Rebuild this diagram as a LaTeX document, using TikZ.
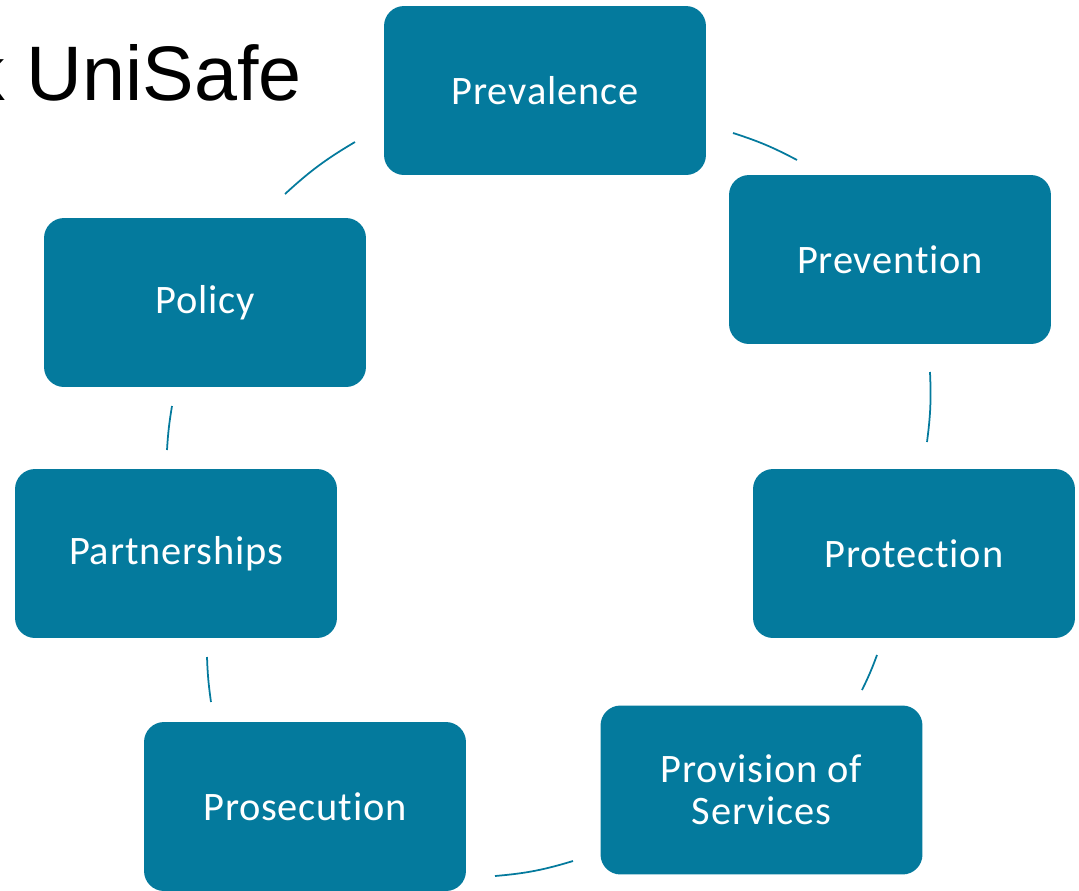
\documentclass[tikz,border=0pt]{standalone}
\usepackage{fontspec}
\setmainfont{Carlito}[Ligatures=NoCommon, LetterSpace=2]
\newfontfamily\titrefont{Liberation Sans}
\definecolor{bleucanard}{RGB}{4,122,157}

\begin{document}
\begin{tikzpicture}[x=0.02cm,y=-0.02cm]
\tikzset{pnoeud/.style={fill=bleucanard, rounded corners=0.4cm, minimum width=6.44cm, minimum height=3.38cm, inner sep=0pt, text=white, align=center, font=\fontsize{23}{24}\selectfont}}
\tikzset{lien/.style={draw=bleucanard, line width=0.035cm}}
\clip (0,0) rectangle (1079,890);
\node[anchor=base east, inner sep=0pt, font=\titrefont\fontsize{44}{50}\selectfont] (T) at (302,100) {k UniSafe};
\node[pnoeud] (V1) at (545,90.5) {Prevalence};
\node[pnoeud] (V2) at (890,259.5) {Prevention};
\node[pnoeud] (V3) at (914,553.5) {Protection};
\node[pnoeud] (V4) at (761.5,790) {Provision of\\Services};
\node[pnoeud] (V5) at (305,806.5) {Prosecution};
\node[pnoeud] (V6) at (176,553.5) {Partnerships};
\node[pnoeud] (V7) at (205,302.5) {Policy};
\coordinate (A1) at (733,133); \coordinate (B1) at (797,160);
\coordinate (A2) at (930,372); \coordinate (B2) at (927,442);
\coordinate (A3) at (877,655); \coordinate (B3) at (862,690);
\coordinate (A4) at (573,861); \coordinate (B4) at (495,876);
\coordinate (A5) at (207,657); \coordinate (B5) at (211,702);
\coordinate (A6) at (172,406); \coordinate (B6) at (167,450);
\coordinate (A7) at (285,194); \coordinate (B7) at (355,142);
\draw[lien] (A1) to[bend left=5] (B1);
\draw[lien] (A2) to[bend left=5] (B2);
\draw[lien] (A3) to[bend left=3] (B3);
\draw[lien] (A4) to[bend left=6] (B4);
\draw[lien] (B5) to[bend left=3] (A5);
\draw[lien] (B6) to[bend left=3] (A6);
\draw[lien] (A7) to[bend left=6] (B7);
\end{tikzpicture}
\end{document}
